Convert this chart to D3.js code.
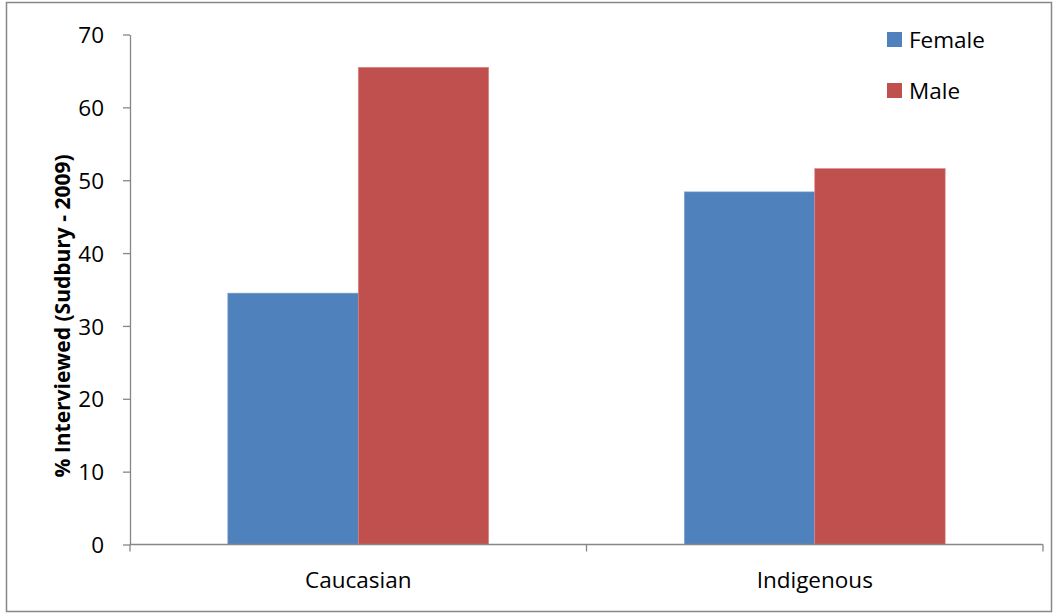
<!DOCTYPE html>
<html>
<head>
<meta charset="utf-8">
<script src="https://cdn.jsdelivr.net/npm/d3@7"></script>
<style>
  html, body { margin: 0; padding: 0; background: #fff; }
  svg { display: block; }
  text { font-family: "Open Sans", Lato, sans-serif; fill: #000; }
</style>
</head>
<body>
<svg id="chart" width="1056" height="614"></svg>
<script>
// Share of people interviewed in Sudbury (2009), by group and sex
const categories = ["Caucasian", "Indigenous"];
const seriesNames = ["Female", "Male"];
const femaleValues = [34.5, 48.4];
const maleValues = [65.5, 51.6];
const yTicks = [0, 10, 20, 30, 40, 50, 60, 70];
const colors = ["#4F81BD", "#C0504D"];

const svg = d3.select("#chart");
const W = 1056, H = 614;
const plot = { left: 130, right: 1043, top: 34.5, bottom: 544.5 };
const labelSize = "22.5px";

// outer frame
svg.append("rect")
  .attr("x", 6.5).attr("y", 2.5)
  .attr("width", W - 11).attr("height", H - 5)
  .attr("fill", "none").attr("stroke", "#878787").attr("stroke-width", 1.5);

const x = d3.scaleBand().domain(categories).range([plot.left, plot.right]).paddingInner(0).paddingOuter(0);
const xInner = d3.scaleBand().domain(seriesNames).range([0, x.bandwidth()]).paddingInner(0).paddingOuter(0.75);
const y = d3.scaleLinear().domain([0, 70]).range([plot.bottom, plot.top]);

const rows = categories.map((c, i) => ({ cat: c, vals: [femaleValues[i], maleValues[i]] }));

// bars
const groups = svg.append("g").selectAll("g").data(rows).join("g")
  .attr("transform", d => `translate(${x(d.cat)},0)`);
groups.selectAll("rect")
  .data(d => d.vals.map((v, j) => ({ name: seriesNames[j], v, j })))
  .join("rect")
  .attr("x", d => xInner(d.name))
  .attr("width", xInner.bandwidth())
  .attr("y", d => y(d.v))
  .attr("height", d => y(0) - y(d.v))
  .attr("fill", d => colors[d.j])
  .attr("stroke", d => d.j === 0 ? "#7fa3d3" : "#d98a88")
  .attr("stroke-width", 0.6);

// y axis
const yAxis = d3.axisLeft(y).tickValues(yTicks).tickSize(7).tickPadding(19).tickSizeOuter(0);
const gy = svg.append("g").attr("transform", `translate(${plot.left},0)`).call(yAxis);
gy.select(".domain").attr("stroke", "#868686").attr("stroke-width", 1.3);
gy.selectAll(".tick line").attr("stroke", "#868686").attr("stroke-width", 1.3);
gy.selectAll(".tick text").style("font-size", labelSize).attr("dy", "0.36em");

// x axis with category boundary ticks
const gx = svg.append("g").attr("transform", `translate(0,${plot.bottom})`);
gx.append("line").attr("x1", plot.left).attr("x2", plot.right).attr("y1", 0).attr("y2", 0)
  .attr("stroke", "#868686").attr("stroke-width", 1.3);
const bounds = categories.map(c => x(c)).concat([x(categories[categories.length - 1]) + x.bandwidth()]);
gx.selectAll("line.tk").data(bounds).join("line").attr("class", "tk")
  .attr("x1", d => d).attr("x2", d => d).attr("y1", 0).attr("y2", 7)
  .attr("stroke", "#868686").attr("stroke-width", 1.3);
gx.selectAll("text").data(categories).join("text")
  .attr("x", d => x(d) + x.bandwidth() / 2).attr("y", 43)
  .attr("text-anchor", "middle").style("font-size", labelSize).text(d => d);

// y axis title
svg.append("text")
  .attr("transform", "translate(70,316) rotate(-90)")
  .attr("text-anchor", "middle").style("font-size", "21px").style("font-weight", "bold")
  .text("% Interviewed (Sudbury - 2009)");

// legend
const legend = svg.append("g").attr("transform", "translate(887,32)");
const li = legend.selectAll("g").data(seriesNames).join("g")
  .attr("transform", (d, i) => `translate(0,${i * 51})`);
li.append("rect").attr("width", 15).attr("height", 15).attr("fill", (d, i) => colors[i]);
li.append("text").attr("x", 22).attr("y", 15.5).style("font-size", labelSize).text(d => d);
</script>
</body>
</html>
